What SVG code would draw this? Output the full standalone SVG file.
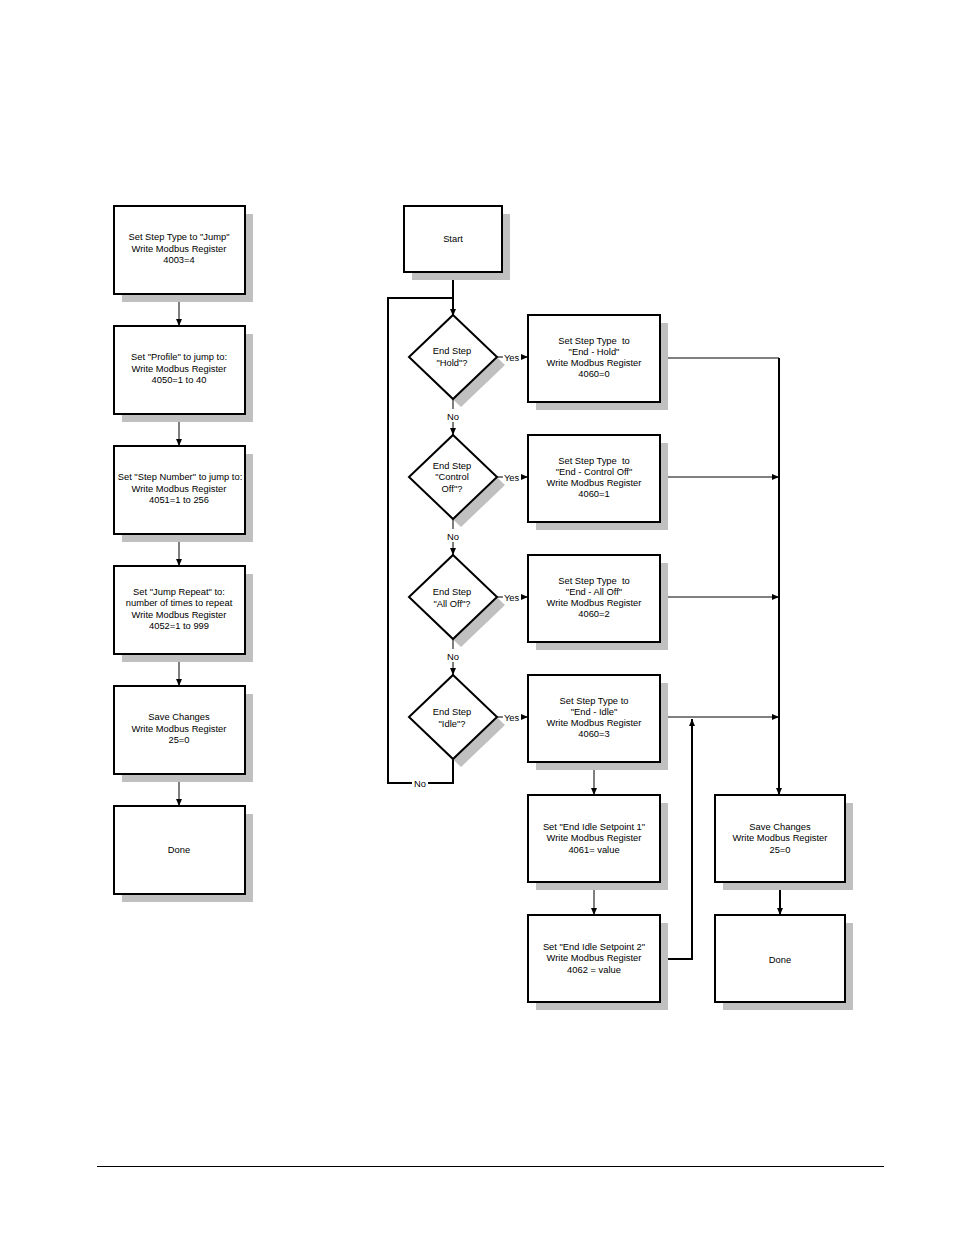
<svg xmlns="http://www.w3.org/2000/svg" width="954" height="1235" viewBox="0 0 954 1235">
<style>
.box{fill:#fff;stroke:#000;stroke-width:2}
.sh{fill:#c0c0c0;stroke:none}
.t{font-family:"Liberation Sans",Arial,sans-serif;font-size:9.35px;fill:#000;text-anchor:middle;white-space:pre}
.l{font-family:"Liberation Sans",Arial,sans-serif;font-size:9.35px;fill:#000;text-anchor:start}
.thin{fill:none;stroke:#000;stroke-width:1}
.thick{fill:none;stroke:#000;stroke-width:2}
</style>
<defs>
<marker id="ah" markerWidth="7" markerHeight="6" refX="7" refY="3" orient="auto" markerUnits="userSpaceOnUse"><path d="M0,0 L7,3 L0,6 z" fill="#000"/></marker>
</defs>
<rect width="954" height="1235" fill="#fff"/>

<g id="connectors">
<path class="thin" d="M179,294 V326" marker-end="url(#ah)"/>
<path class="thin" d="M179,414 V446" marker-end="url(#ah)"/>
<path class="thin" d="M179,534 V566" marker-end="url(#ah)"/>
<path class="thin" d="M179,654 V686" marker-end="url(#ah)"/>
<path class="thin" d="M179,774 V806" marker-end="url(#ah)"/>
<path class="thick" d="M453,272 V316" marker-end="url(#ah)"/>
<path class="thick" d="M453,759 V783 H428"/>
<path class="thick" d="M412,783 H388 V298 H453"/>
<text class="t" x="420" y="786.5">No</text>
<path class="thin" d="M497,357 H503"/>
<path class="thin" d="M521,357 H528" marker-end="url(#ah)"/>
<text class="l" x="504" y="360.5">Yes</text>
<path class="thin" d="M497,477 H503"/>
<path class="thin" d="M521,477 H528" marker-end="url(#ah)"/>
<text class="l" x="504" y="480.5">Yes</text>
<path class="thin" d="M497,597 H503"/>
<path class="thin" d="M521,597 H528" marker-end="url(#ah)"/>
<text class="l" x="504" y="600.5">Yes</text>
<path class="thin" d="M497,717 H503"/>
<path class="thin" d="M521,717 H528" marker-end="url(#ah)"/>
<text class="l" x="504" y="720.5">Yes</text>
<path class="thin" d="M453,399 V409"/>
<path class="thin" d="M453,422 V435" marker-end="url(#ah)"/>
<text class="t" x="453" y="419.5">No</text>
<path class="thin" d="M453,519 V529"/>
<path class="thin" d="M453,542 V555" marker-end="url(#ah)"/>
<text class="t" x="453" y="539.5">No</text>
<path class="thin" d="M453,639 V649"/>
<path class="thin" d="M453,662 V675" marker-end="url(#ah)"/>
<text class="t" x="453" y="659.5">No</text>
<path class="thin" d="M660,358 H779"/>
<path class="thin" d="M660,477 H779" marker-end="url(#ah)"/>
<path class="thin" d="M660,597 H779" marker-end="url(#ah)"/>
<path class="thin" d="M660,717 H779" marker-end="url(#ah)"/>
<path class="thick" d="M779,358 V795" marker-end="url(#ah)"/>
<path class="thick" d="M780,882 V915" marker-end="url(#ah)"/>
<path class="thin" d="M594,762 V795" marker-end="url(#ah)"/>
<path class="thin" d="M594,882 V915" marker-end="url(#ah)"/>
<path class="thick" d="M660,959 H692 V719" marker-end="url(#ah)"/>
</g>

<g id="left1"><rect class="sh" x="122" y="214" width="131" height="88"/><rect class="box" x="114" y="206" width="131" height="88"/>
<text class="t" x="179" y="240">Set Step Type to "Jump"</text><text class="t" x="179" y="251.5">Write Modbus Register</text><text class="t" x="179" y="263">4003=4</text></g>
<g id="left2"><rect class="sh" x="122" y="334" width="131" height="88"/><rect class="box" x="114" y="326" width="131" height="88"/>
<text class="t" x="179" y="360">Set "Profile" to jump to:</text><text class="t" x="179" y="371.5">Write Modbus Register</text><text class="t" x="179" y="383">4050=1 to 40</text></g>
<g id="left3"><rect class="sh" x="122" y="454" width="131" height="88"/><rect class="box" x="114" y="446" width="131" height="88"/>
<text class="t" x="180" y="480">Set "Step Number" to jump to:</text><text class="t" x="179" y="491.5">Write Modbus Register</text><text class="t" x="179" y="503">4051=1 to 256</text></g>
<g id="left4"><rect class="sh" x="122" y="574" width="131" height="88"/><rect class="box" x="114" y="566" width="131" height="88"/>
<text class="t" x="179" y="594.5">Set "Jump Repeat" to:</text><text class="t" x="179" y="606">number of times to repeat</text><text class="t" x="179" y="617.5">Write Modbus Register</text><text class="t" x="179" y="629">4052=1 to 999</text></g>
<g id="left5"><rect class="sh" x="122" y="694" width="131" height="88"/><rect class="box" x="114" y="686" width="131" height="88"/>
<text class="t" x="179" y="720">Save Changes</text><text class="t" x="179" y="731.5">Write Modbus Register</text><text class="t" x="179" y="743">25=0</text></g>
<g id="left6"><rect class="sh" x="122" y="814" width="131" height="88"/><rect class="box" x="114" y="806" width="131" height="88"/>
<text class="t" x="179" y="853">Done</text></g>

<g id="start"><rect class="sh" x="412" y="214" width="98" height="66"/><rect class="box" x="404" y="206" width="98" height="66"/>
<text class="t" x="453" y="241.5">Start</text></g>

<g id="d1"><path class="sh" d="M461,323 L505,365 L461,407 L417,365 Z"/><path class="box" d="M453,315 L497,357 L453,399 L409,357 Z"/>
<text class="t" x="452" y="353.5">End Step</text><text class="t" x="452" y="365.5">"Hold"?</text></g>
<g id="d2"><path class="sh" d="M461,443 L505,485 L461,527 L417,485 Z"/><path class="box" d="M453,435 L497,477 L453,519 L409,477 Z"/>
<text class="t" x="452" y="468.5">End Step</text><text class="t" x="452" y="480">"Control</text><text class="t" x="452" y="491.5">Off"?</text></g>
<g id="d3"><path class="sh" d="M461,563 L505,605 L461,647 L417,605 Z"/><path class="box" d="M453,555 L497,597 L453,639 L409,597 Z"/>
<text class="t" x="452" y="594.5">End Step</text><text class="t" x="452" y="606.5">"All Off"?</text></g>
<g id="d4"><path class="sh" d="M461,683 L505,725 L461,767 L417,725 Z"/><path class="box" d="M453,675 L497,717 L453,759 L409,717 Z"/>
<text class="t" x="452" y="714.5">End Step</text><text class="t" x="452" y="726.5">"Idle"?</text></g>

<g id="r1"><rect class="sh" x="536" y="323" width="132" height="87"/><rect class="box" x="528" y="315" width="132" height="87"/>
<text class="t" x="594" y="344">Set Step Type  to</text><text class="t" x="594" y="355">"End - Hold"</text><text class="t" x="594" y="366">Write Modbus Register</text><text class="t" x="594" y="377">4060=0</text></g>
<g id="r2"><rect class="sh" x="536" y="443" width="132" height="87"/><rect class="box" x="528" y="435" width="132" height="87"/>
<text class="t" x="594" y="464">Set Step Type  to</text><text class="t" x="594" y="475">"End - Control Off"</text><text class="t" x="594" y="486">Write Modbus Register</text><text class="t" x="594" y="497">4060=1</text></g>
<g id="r3"><rect class="sh" x="536" y="563" width="132" height="87"/><rect class="box" x="528" y="555" width="132" height="87"/>
<text class="t" x="594" y="584">Set Step Type  to</text><text class="t" x="594" y="595">"End - All Off"</text><text class="t" x="594" y="606">Write Modbus Register</text><text class="t" x="594" y="617">4060=2</text></g>
<g id="r4"><rect class="sh" x="536" y="683" width="132" height="87"/><rect class="box" x="528" y="675" width="132" height="87"/>
<text class="t" x="594" y="704">Set Step Type to</text><text class="t" x="594" y="715">"End - Idle"</text><text class="t" x="594" y="726">Write Modbus Register</text><text class="t" x="594" y="737">4060=3</text></g>
<g id="sp1"><rect class="sh" x="536" y="803" width="132" height="87"/><rect class="box" x="528" y="795" width="132" height="87"/>
<text class="t" x="594" y="829.5">Set "End Idle Setpoint 1"</text><text class="t" x="594" y="841">Write Modbus Register</text><text class="t" x="594" y="852.5">4061= value</text></g>
<g id="sp2"><rect class="sh" x="536" y="923" width="132" height="87"/><rect class="box" x="528" y="915" width="132" height="87"/>
<text class="t" x="594" y="949.5">Set "End Idle Setpoint 2"</text><text class="t" x="594" y="961">Write Modbus Register</text><text class="t" x="594" y="972.5">4062 = value</text></g>
<g id="save"><rect class="sh" x="723" y="803" width="130" height="87"/><rect class="box" x="715" y="795" width="130" height="87"/>
<text class="t" x="780" y="829.5">Save Changes</text><text class="t" x="780" y="841">Write Modbus Register</text><text class="t" x="780" y="852.5">25=0</text></g>
<g id="done"><rect class="sh" x="723" y="923" width="130" height="87"/><rect class="box" x="715" y="915" width="130" height="87"/>
<text class="t" x="780" y="962.5">Done</text></g>

<line x1="97" y1="1166.5" x2="884" y2="1166.5" stroke="#000" stroke-width="1"/>
</svg>
